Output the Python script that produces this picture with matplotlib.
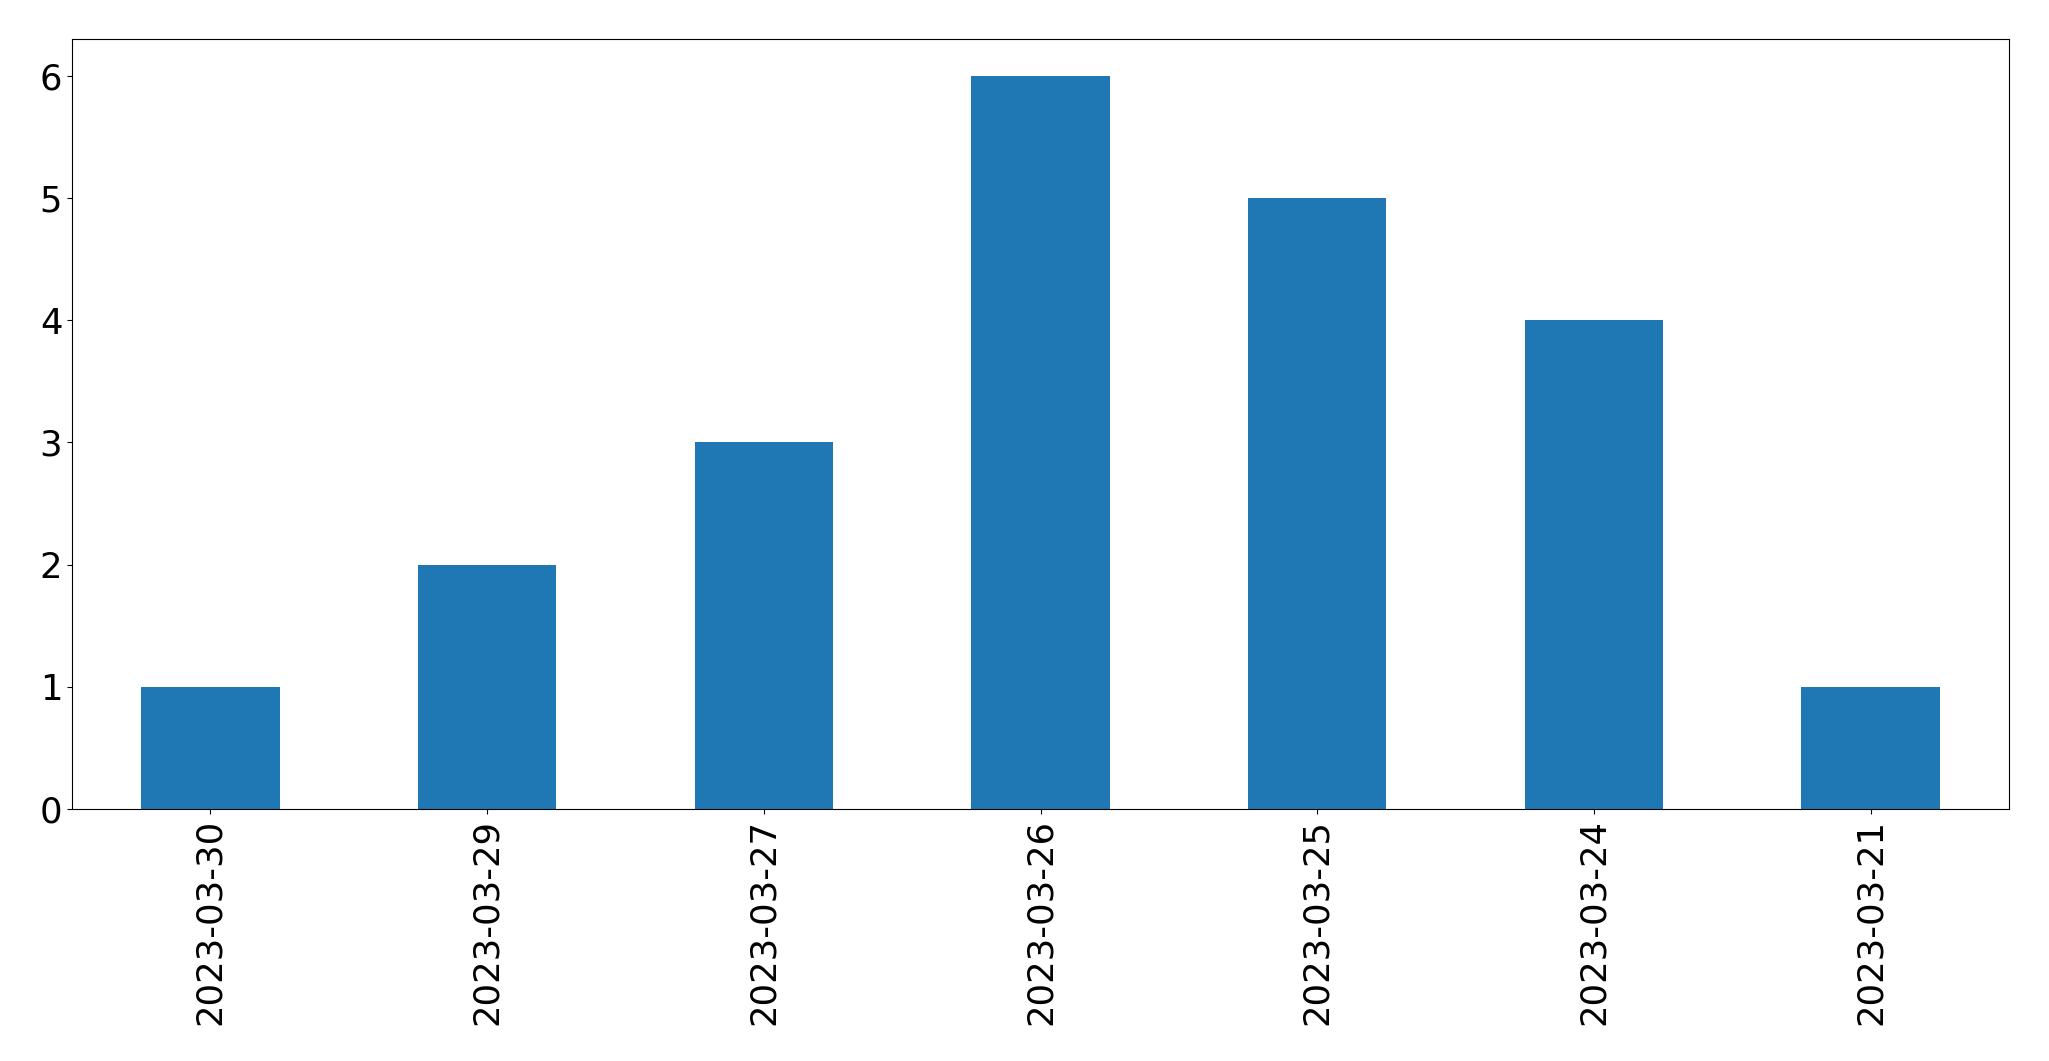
import matplotlib
matplotlib.use("Agg")
import matplotlib.pyplot as plt
import numpy as np

dates = ["2023-03-30", "2023-03-29", "2023-03-27", "2023-03-26", "2023-03-25", "2023-03-24", "2023-03-21"]
counts = [1, 2, 3, 6, 5, 4, 1]

fig = plt.figure(figsize=(20.49, 10.61), dpi=100)
ax = fig.add_axes([72/2049, 1-809/1061, (2009-72)/2049, (809-39)/1061])
x = np.arange(len(dates))
ax.bar(x, counts, width=0.5, color="#1f77b4")
ax.set_xlim(-0.5, len(dates) - 0.5)
ax.set_ylim(0, 6.3)
ax.set_xticks(x)
ax.set_xticklabels(dates, rotation=90, fontsize=25.5)
ax.tick_params(axis="y", labelsize=25.5)
fig.savefig("out.png", dpi=100)
